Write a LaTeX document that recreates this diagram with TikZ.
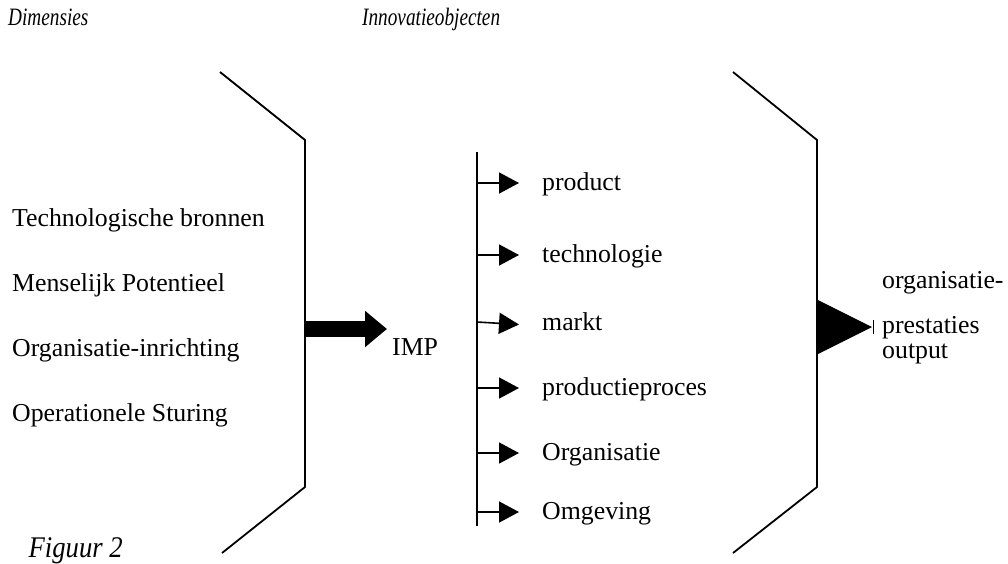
\documentclass[tikz,border=0pt]{standalone}
\usepackage{fontspec}
\setmainfont{Liberation Serif}
\usetikzlibrary{arrows.meta}
\begin{document}
\begin{tikzpicture}[x=1pt,y=-1pt,
  txt/.style={anchor=base west, inner sep=0pt, font=\fontsize{25.8}{30}\selectfont},
  hdr/.style={anchor=base west, inner sep=0pt, font=\fontsize{25}{30}\selectfont\itshape},
  brk/.style={line width=1.8pt, line join=round},
  smallarrow/.style={line width=1.6pt, -{Triangle[length=20pt,width=21pt]}},
  bigarrow/.style={line width=16pt, -{Triangle[length=22pt,width=35pt]}},
]
\useasboundingbox (0,0) rectangle (1008,563);
% headers
\node[hdr] (dim) at (8,25) {\scalebox{0.77}[1]{Dimensies}};
\node[hdr] (inno) at (362,25) {\scalebox{0.77}[1]{Innovatieobjecten}};
\node[anchor=base east, inner sep=0pt, font=\fontsize{30}{34}\selectfont\itshape] (fig) at (123,557) {\scalebox{0.89}[1]{Figuur 2}};
% brackets
\draw[brk] (220,72) -- (305,140) -- (305,487) -- (222,553);
\draw[brk] (733,72) -- (817,140) -- (817,487) -- (733,553);
% left texts
\node[txt] (t1) at (12,226) {Technologische bronnen};
\node[txt] (t2) at (12,291) {Menselijk Potentieel};
\node[txt] (t3) at (12,356) {Organisatie-inrichting};
\node[txt] (t4) at (12,421) {Operationele Sturing};
% big arrow
\coordinate (bs) at (305,329);
\coordinate (be) at (387,329);
\draw[bigarrow] (bs) -- (be);
\node[txt] (imp) at (392,355) {IMP};
% middle line
\coordinate (mtop) at (477,152);
\coordinate (mbot) at (477,526);
\draw[line width=1.8pt] (mtop) -- (mbot);
% objects
\foreach \name/\ay/\lab in {o1/183/product, o2/255/technologie, o4/388/productieproces, o5/453/Organisatie, o6/512/Omgeving}{
  \coordinate (\name s) at (477,\ay);
  \coordinate (\name e) at (519,\ay);
  \draw[smallarrow] (\name s) -- (\name e);
  \node[txt] (\name) at (542,\ay+7) {\lab};
}
\coordinate (o3s) at (477,322);
\coordinate (o3e) at (519,324.5);
\draw[smallarrow] (o3s) -- (o3e);
\node[txt] (o3) at (542,330) {markt};
% output triangle
\fill (816,299) -- (872,327) -- (816,355) -- cycle;
\draw[line width=0.8pt] (873,320) -- (873,334);
\node[txt] (r1) at (882,288) {organisatie-};
\node[txt] (r2) at (882,333) {prestaties};
\node[txt] (r3) at (882,358) {output};
\end{tikzpicture}
\end{document}
